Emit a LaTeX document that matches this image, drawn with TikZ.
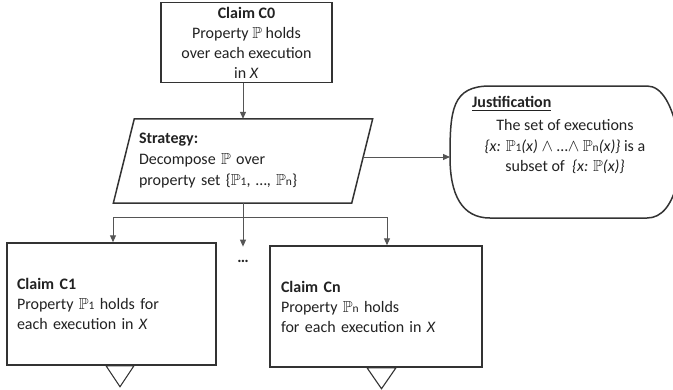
\documentclass[tikz,border=0pt]{standalone}
\usepackage{fontspec}
\usepackage{amssymb}
\setmainfont{Carlito}
\usetikzlibrary{arrows.meta,calc}
\definecolor{boxc}{HTML}{333333}
\definecolor{linec}{HTML}{555555}
\definecolor{txt}{HTML}{222222}
\newcommand{\idxsm}[1]{{\fontsize{11.5}{11.5}\selectfont #1}}
\newcommand{\bbP}{$\mathbb{P}$}
\begin{document}
\begin{tikzpicture}[x=1pt,y=-1pt,
  font=\fontsize{16}{20}\selectfont,
  box/.style={draw=boxc, line width=1.5pt, inner sep=0pt, text=txt},
  tri/.style={draw=boxc, line width=1.1pt, fill=white},
  conn/.style={draw=linec, line width=1pt},
  arr/.style={conn, -{Triangle[length=7pt,width=6pt]}},
  plain/.style={text=txt, inner sep=0pt}
]
\clip (0,0) rectangle (673,389);
\fill[white] (0,0) rectangle (673,389);

% Claim C0
\node[box, minimum width=171pt, minimum height=80pt, align=center] (c0) at (246.5,42.5)
  {\textbf{Claim C0}\\Property \bbP{} holds\\over each execution\\in \textit{X}};

% Strategy
\node[plain, minimum width=238pt, minimum height=84pt, inner xsep=15pt, text width=208pt, align=left] (strat) at (243,161)
  {\textbf{Strategy:}\\[1pt]Decompose \bbP{} over\\[1pt]property set \{\bbP\idxsm{1}, …, \bbP\idxsm{n}\}};
\draw[box] ($(strat.north west)+(10.5,0)$) -- ($(strat.north east)+(10.5,0)$)
  -- ($(strat.south east)+(-10.5,0)$) -- ($(strat.south west)+(-10.5,0)$) -- cycle;

% Justification
\draw[box] (490,86) -- (647,86) .. controls (662,86) and (672,105) .. (678,134) -- (678,180)
  .. controls (672,205) and (662,218) .. (647,218) -- (490,218)
  .. controls (462,218) and (450,195) .. (450,157)
  .. controls (450,110) and (452,86) .. (490,86) -- cycle;
\coordinate (just) at (450,157);
\node[plain, anchor=west] (jtitle) at (472,104) {\underline{\textbf{Justification}}};
\node[plain, align=center] (jbody) at (565,147)
  {The set of executions\\[1pt]
   \textit{\{x:} \bbP\idxsm{1}\textit{(x)} $\wedge$ …$\wedge$ \bbP\idxsm{n}\textit{(x)\}} is a\\
   subset of \ \textit{\{x:} \bbP\textit{(x)\}}};

% Claims C1 and Cn
\node[box, minimum width=209pt, minimum height=122pt, inner xsep=10pt, text width=189pt, align=left] (c1) at (111.5,304)
  {\textbf{Claim C1}\\Property \bbP\idxsm{1} holds for\\each execution in \textit{X}};
\node[box, minimum width=212pt, minimum height=121pt, inner xsep=11pt, text width=190pt, align=left] (cn) at (376,306.5)
  {\textbf{Claim Cn}\\Property \bbP\idxsm{n} holds\\for each execution in \textit{X}};
\node[plain] (dots) at (243,261) {\textbf{…}};

% triangles
\draw[tri] ($(c1.south)+(-5.5,0)$) -- ($(c1.south)+(22.5,0)$) -- ($(c1.south)+(8.5,21)$) -- cycle;
\draw[tri] ($(cn.south)+(-9,0)$) -- ($(cn.south)+(20,0)$) -- ($(cn.south)+(5.5,21)$) -- cycle;

% connectors
\draw[arr] (c0.south -| strat.north) -- (strat.north);
\draw[arr] (strat.east |- just) -- (just);
\coordinate (h1) at (113,217);
\coordinate (hn) at (387,217);
\coordinate (hm) at (strat.south |- h1);
\draw[conn] (strat.south) -- (hm);
\draw[conn] (h1) -- (hn);
\draw[arr] (h1) -- (h1 |- c1.north);
\draw[arr] (hn) -- (hn |- cn.north);
\draw[arr, shorten >=13pt] (hm) -- (dots.north);
\end{tikzpicture}
\end{document}
